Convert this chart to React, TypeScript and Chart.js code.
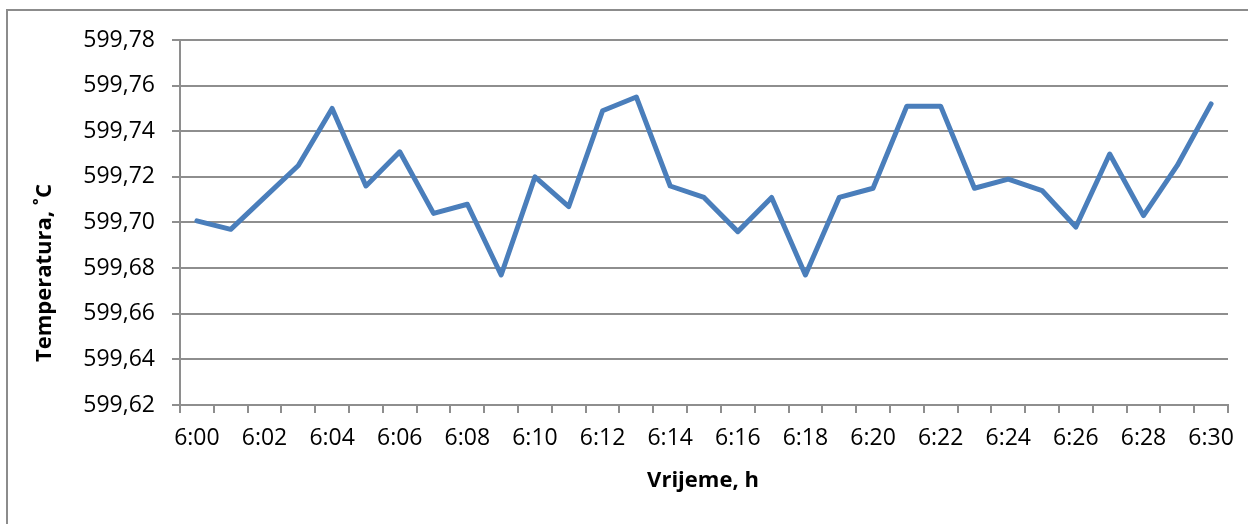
import React, { useEffect, useRef } from "react";
import { Chart, registerables } from "chart.js";

Chart.register(...registerables);

const times = [
  "6:00", "6:01", "6:02", "6:03", "6:04", "6:05", "6:06", "6:07", "6:08", "6:09",
  "6:10", "6:11", "6:12", "6:13", "6:14", "6:15", "6:16", "6:17", "6:18", "6:19",
  "6:20", "6:21", "6:22", "6:23", "6:24", "6:25", "6:26", "6:27", "6:28", "6:29",
  "6:30",
];

const temperature = [
  599.7007, 599.697, 599.711, 599.725, 599.75, 599.716, 599.731, 599.704, 599.708, 599.677,
  599.72, 599.707, 599.749, 599.755, 599.716, 599.711, 599.696, 599.711, 599.677, 599.711,
  599.715, 599.751, 599.751, 599.715, 599.719, 599.714, 599.698, 599.73, 599.703, 599.725,
  599.752,
];

const yMin = 599.62;
const yMax = 599.78;
const yStep = 0.02;

const xTitle = "Vrijeme, h";
const yTitle = "Temperatura, ˚C";

const FONT = "'Open Sans', 'DejaVu Sans', sans-serif";
const GRID = "#8e8e8e";

export default function App() {
  const ref = useRef<HTMLCanvasElement | null>(null);

  useEffect(() => {
    if (!ref.current) return;
    const titles = {
      id: "axisTitles",
      afterDraw(chart: any) {
        const ctx = chart.ctx;
        ctx.save();
        ctx.fillStyle = "#000";
        ctx.font = `bold 22px ${FONT}`;
        ctx.textAlign = "center";
        ctx.textBaseline = "middle";
        ctx.fillText(xTitle, 703, 481);
        ctx.translate(45, 273);
        ctx.rotate(-Math.PI / 2);
        ctx.fillText(yTitle, 0, 0);
        ctx.restore();
      },
    };
    const chart = new Chart(ref.current, {
      type: "line",
      data: {
        labels: times,
        datasets: [
          {
            data: temperature,
            borderColor: "#4a7ebb",
            borderWidth: 5,
            pointRadius: 0,
            tension: 0,
            borderJoinStyle: "round",
            borderCapStyle: "round",
            fill: false,
          },
        ],
      },
      options: {
        animation: false,
        responsive: false,
        maintainAspectRatio: false,
        devicePixelRatio: 1,
        layout: { padding: { left: 0, top: 40, right: 20, bottom: 0 } },
        plugins: { legend: { display: false }, tooltip: { enabled: false } },
        scales: {
          x: {
            type: "category",
            offset: true,
            afterFit(scale: any) {
              scale.height = 119;
            },
            grid: {
              offset: true,
              drawOnChartArea: false,
              drawTicks: true,
              tickLength: 8,
              color: GRID,
              lineWidth: 2,
            },
            border: { display: true, color: GRID, width: 2 },
            ticks: {
              autoSkip: false,
              maxRotation: 0,
              minRotation: 0,
              padding: 12,
              color: "#000",
              font: { family: FONT, size: 23 },
              callback: (_v: any, i: number) => (i % 2 === 0 ? times[i] : ""),
            },
          },
          y: {
            min: yMin,
            max: yMax,
            afterFit(scale: any) {
              scale.width = 180;
            },
            grid: {
              drawTicks: true,
              tickLength: 8,
              color: GRID,
              lineWidth: 2,
            },
            border: { display: true, color: GRID, width: 2 },
            ticks: {
              stepSize: yStep,
              padding: 17,
              color: "#000",
              font: { family: FONT, size: 23 },
              callback: (v: any) => Number(v).toFixed(2).replace(".", ","),
            },
          },
        },
      },
      plugins: [titles],
    });
    return () => chart.destroy();
  }, []);

  return (
    <div
      style={{
        position: "fixed",
        left: 0,
        top: 0,
        width: 1248,
        height: 524,
        overflow: "hidden",
        background: "#fff",
      }}
    >
      <div
        style={{
          position: "absolute",
          left: 6,
          top: 9,
          width: 1400,
          height: 700,
          border: "2px solid #8c8c8c",
        }}
      />
      <canvas
        ref={ref}
        width={1248}
        height={524}
        style={{ position: "absolute", left: 0, top: 0, width: 1248, height: 524 }}
      />
    </div>
  );
}
